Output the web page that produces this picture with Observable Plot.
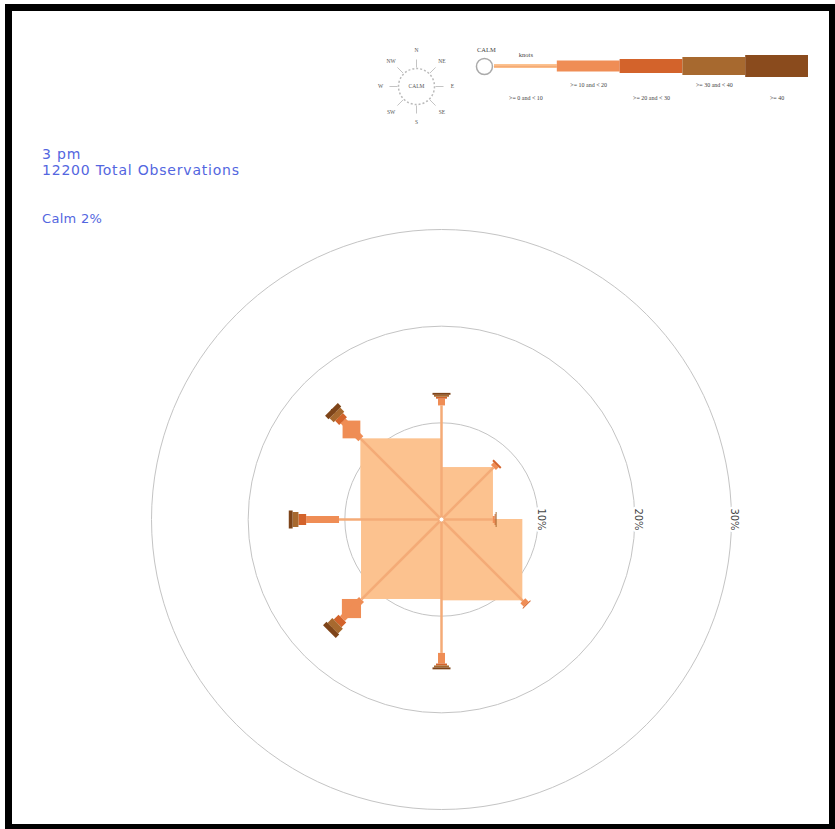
<!DOCTYPE html>
<html><head><meta charset="utf-8">
<script src="https://cdn.jsdelivr.net/npm/d3@7"></script>
<script src="https://cdn.jsdelivr.net/npm/@observablehq/plot@0.6"></script>
<style>
html,body{margin:0;padding:0;background:#fff;overflow:hidden;width:835px;height:829px;}
#page{position:relative;width:835px;height:829px;overflow:hidden;font-family:"DejaVu Sans",sans-serif;}
.abs{position:absolute;}
#frame{position:absolute;left:5px;top:4px;width:831px;height:827px;border:7px solid #000;box-sizing:border-box;pointer-events:none;z-index:5;}
.title{position:absolute;left:42px;color:#5366e0;font-size:14px;line-height:15px;letter-spacing:0.8px;white-space:nowrap;}
</style></head><body>
<div id="page">
  <div id="rose" class="abs" style="left:122px;top:200px"></div>
  <div id="compass" class="abs" style="left:366px;top:36px"></div>
  <div id="legend" class="abs" style="left:470px;top:30px"></div>
  <div class="title" style="top:147px">3 pm</div>
  <div class="title" style="top:163px">12200 Total Observations</div>
  <div class="title" style="top:211px;font-size:13px;letter-spacing:0.3px">Calm 2%</div>
  <div id="frame"></div>
</div>
<script>
// ---- data ----
const directions = ["N", "NE", "E", "SE", "S", "SW", "W", "NW"];
const directionAngles = [90, 45, 0, -45, -90, -135, 180, 135];
const speedClasses = [">= 0 and < 10", ">= 10 and < 20", ">= 20 and < 30", ">= 30 and < 40", ">= 40"];
// percent of observations per direction, one array per speed class
const class1 = [11.8, 7.6, 5.3, 11.9, 13.8, 11.7, 10.6, 11.8];
const class2 = [0.7, 0.4, 0.2, 0.5, 1.1, 2.8, 3.4, 2.6];
const class3 = [0.2, 0.2, 0.1, 0.1, 0.2, 0.7, 0.8, 0.6];
const class4 = [0.2, 0.0, 0.1, 0.0, 0.2, 0.7, 0.6, 0.6];
const class5 = [0.2, 0.0, 0.0, 0.0, 0.2, 0.5, 0.4, 0.5];
const ringValues = [10, 20, 30];
const unitLabel = "knots";
const calmLabel = "CALM";

// ---- styles ----
const fillColors = ["#fcc28f", "#ef8d55", "#d3632b", "#a7692f", "#8a4b1d"];
const lineColors = ["#f4ab77", "#ef8d55", "#d3632b", "#a7692f", "#7e4419"];
const lineWidths = [2.5, 7, 11, 15, 18];
const legendHeights = [4, 11, 14, 18, 22];

const classes = [class1, class2, class3, class4, class5];
const segs = [];
directions.forEach((d, i) => {
  let r0 = 0;
  const t = directionAngles[i] * Math.PI / 180;
  const c = Math.abs(Math.cos(t)) < 1e-9 ? 0 : Math.cos(t);
  const s = Math.abs(Math.sin(t)) < 1e-9 ? 0 : Math.sin(t);
  classes.forEach((arr, k) => {
    const v = arr[i];
    if (v > 0) {
      const r1 = r0 + v;
      segs.push({dir: d, k, x1: r0 * c, y1: r0 * s, x2: r1 * c, y2: r1 * s});
      r0 = r1;
    }
  });
});

const rose = Plot.plot({
  width: 638, height: 638, margin: 0,
  style: {background: "transparent", overflow: "visible"},
  x: {domain: [-33, 33], axis: null},
  y: {domain: [-33, 33], axis: null},
  r: {type: "linear", domain: [0, 33], range: [0, 319]},
  marks: [
    Plot.dot(ringValues, {x: 0, y: 0, r: d => d, stroke: "#c4c4c4", fill: "none", strokeWidth: 1}),
    Plot.rect(segs, {x1: "x1", x2: "x2", y1: "y1", y2: "y2", fill: d => fillColors[d.k]}),
    Plot.link(segs, {x1: "x1", y1: "y1", x2: "x2", y2: "y2", stroke: d => lineColors[d.k], strokeWidth: d => lineWidths[d.k]}),
    Plot.dot([0], {x: 0, y: 0, r: 2.5, fill: "white", stroke: "#f2b07f", strokeWidth: 1}),
    Plot.text(ringValues, {x: d => d, y: 0, text: d => d + "%", rotate: 90, fontSize: 10, fill: "#444", stroke: "white", strokeWidth: 5, fontFamily: "DejaVu Sans", dx: 3})
  ]
});
document.getElementById("rose").appendChild(rose);

const compass = Plot.plot({
  width: 100, height: 100, margin: 0,
  style: {background: "transparent", overflow: "visible"},
  x: {domain: [-50, 50], axis: null},
  y: {domain: [-50, 50], axis: null},
  marks: [
    Plot.dot([0], {x: 0, y: 0, r: 18, stroke: "#bbb", strokeDasharray: "2,2", fill: "none"}),
    Plot.text([calmLabel], {x: 0, y: 0, text: d => d, fontSize: 5.5, fill: "#555", fontFamily: "Liberation Serif"}),
    Plot.link(directions, {
      x1: (d, i) => 19 * Math.cos(directionAngles[i] * Math.PI / 180),
      y1: (d, i) => 19 * Math.sin(directionAngles[i] * Math.PI / 180),
      x2: (d, i) => 27 * Math.cos(directionAngles[i] * Math.PI / 180),
      y2: (d, i) => 27 * Math.sin(directionAngles[i] * Math.PI / 180),
      stroke: "#aaa", strokeWidth: 0.7
    }),
    Plot.text(directions, {
      x: (d, i) => 36 * Math.cos(directionAngles[i] * Math.PI / 180),
      y: (d, i) => 36 * Math.sin(directionAngles[i] * Math.PI / 180),
      text: d => d, fontSize: 5.5, fill: "#555", fontFamily: "Liberation Serif"
    })
  ]
});
document.getElementById("compass").appendChild(compass);

const legend = Plot.plot({
  width: 340, height: 80, marginLeft: 24, marginRight: 2, marginTop: 0, marginBottom: 0,
  style: {background: "transparent", overflow: "visible"},
  x: {domain: [0, 5], axis: null},
  y: {domain: [-44, 36], axis: null},
  marks: [
    Plot.rect(speedClasses, {
      x1: (d, i) => i, x2: (d, i) => i + 1,
      y1: (d, i) => -legendHeights[i] / 2, y2: (d, i) => legendHeights[i] / 2,
      fill: (d, i) => fillColors[i]
    }),
    Plot.ruleY([0], {x1: 0, x2: 1, stroke: lineColors[0], strokeWidth: 1.5}),
    Plot.text(speedClasses, {
      x: (d, i) => i + 0.5, y: (d, i) => (i % 2 ? -19 : -32),
      text: d => d, fontSize: 6, fill: "#444", fontFamily: "Liberation Serif"
    }),
    Plot.dot([calmLabel], {x: -0.16, y: 0, r: 8, stroke: "#aaa", fill: "white"}),
    Plot.text([calmLabel], {x: -0.13, y: 17, text: d => d, fontSize: 6.5, fill: "#444", fontFamily: "Liberation Serif"}),
    Plot.text([unitLabel], {x: 0.5, y: 12, text: d => d, fontSize: 6.5, fill: "#444", fontFamily: "Liberation Serif"})
  ]
});
document.getElementById("legend").appendChild(legend);
</script>
</body></html>
